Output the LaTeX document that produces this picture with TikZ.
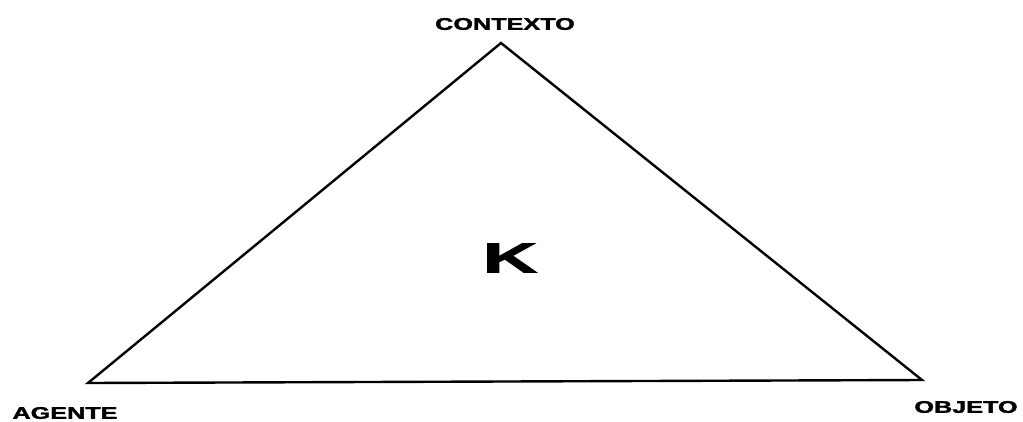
\documentclass[tikz,border=0pt]{standalone}
\usepackage{fontspec}
\setmainfont{Liberation Sans}[BoldFeatures={FakeBold=1.6}]
\usetikzlibrary{positioning}
\tikzset{
  vlab/.style={font=\fontsize{16.8}{18}\selectfont\bfseries, inner sep=0pt, xscale=1.5, transform shape},
  klab/.style={font=\fontsize{42}{44}\selectfont\bfseries, inner sep=0pt, xscale=1.8, transform shape},
}

\begin{document}
\begin{tikzpicture}[x=1pt, y=-1pt, line width=2.4pt]
  \useasboundingbox (0,0) rectangle (1023,421);
  \coordinate (C) at (501,43);
  \coordinate (A) at (88,383);
  \coordinate (O) at (922,380);
  \draw[line join=miter] (A) -- (C) -- (O) -- cycle;
  \node[vlab] (ctx) at (505,24) {CONTEXTO};
  \node[vlab] (ag) at (65,413) {AGENTE};
  \node[vlab] (obj) at (966,407) {OBJETO};
  \node[klab] (k) at (510,258) {K};
\end{tikzpicture}
\end{document}
